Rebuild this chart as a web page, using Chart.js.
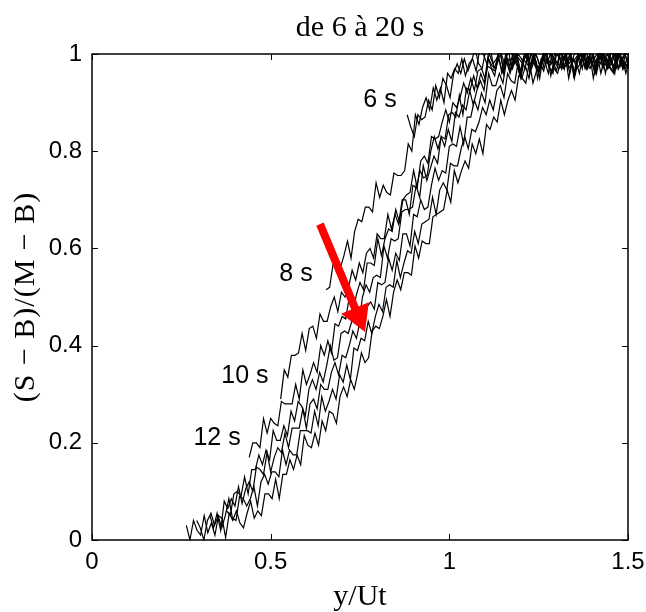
<!DOCTYPE html>
<html><head><meta charset="utf-8">
<script src="https://cdn.jsdelivr.net/npm/chart.js@4.4.1/dist/chart.umd.min.js"></script>
<style>html,body{margin:0;padding:0;background:#fff}</style>
</head><body>
<canvas id="c" width="646" height="612"></canvas>
<script>
// profile times and sampling of each profile along y/Ut
const times = ["6 s","8 s","10 s","12 s","14 s","16 s","18 s","20 s"];
const xStart = [0.882,0.655,0.528,0.44,0.377,0.33,0.293,0.264];
const xStep = 0.01;

const y06 = [.875,.85,.83,.875,.865,.87,.905,.885,.935,.91,.95,.935,.91,.96,.98,.96,.99,.965,.985,1.01,.98,.97,1.01,1.0,.98,.99,1.01,.96,1.0,1.01,.98,1.0,.99,.97,1.01,.98,1.0,.98,.97,1.01,1.0,.99,.98,1.01,.97,1.01,.98,.99,1.0,.97,1.01,.98,1.0,.96,1.01,.99,1.0,.98,1.01,.97,.99,1.0,.97];
const y08 = [.515,.52,.57,.57,.56,.585,.615,.58,.635,.66,.655,.685,.685,.675,.735,.705,.73,.715,.71,.755,.75,.75,.76,.815,.80,.875,.855,.89,.91,.885,.93,.905,.93,.90,.96,.95,.97,.96,.99,.955,.98,.99,.965,1.01,1.0,.98,1.01,.97,.99,1.0,.98,1.01,.97,1.0,.99,.98,1.01,.96,1.0,.995,.97,1.01,.99,.98,1.0,1.01,.97,1.0,.98,.99,1.01,.98,1.0,.97,1.0,.995,.97,1.01,.99,.98,1.01,.98,1.0,.97,1.01,.995];
const y10 = [.29,.35,.335,.38,.38,.385,.425,.39,.435,.44,.415,.465,.45,.45,.48,.50,.47,.51,.50,.52,.555,.535,.57,.55,.59,.60,.58,.63,.62,.62,.67,.64,.67,.65,.70,.70,.67,.73,.725,.76,.745,.75,.80,.83,.805,.83,.825,.875,.88,.87,.915,.875,.93,.925,.955,.93,.96,.94,.995,.97,.965,.99,.965,1.0,.975,1.0,.985,.955,.995,1.0,.975,.995,.965,.985,1.01,.975,.965,1.0,.995,.975,.985,1.0,.955,.995,1.0,.975,.995,.985,.965,1.01,.975,.995,.975,.965,1.0,.995,.985,.975,1.0];
const y12 = [.17,.20,.20,.19,.25,.22,.25,.24,.235,.285,.28,.28,.28,.32,.29,.35,.32,.34,.365,.345,.40,.38,.41,.385,.445,.44,.46,.455,.50,.47,.505,.53,.515,.57,.57,.565,.62,.585,.62,.64,.635,.68,.655,.70,.71,.715,.76,.725,.78,.79,.775,.83,.825,.83,.86,.885,.86,.90,.89,.91,.94,.92,.95,.925,.965,.97,.95,.99,.975,.97,1.01,.975,.995,.965,1.0,.995,.955,1.0,.985,1.0,.975,.965,.995,1.01,.975,.985,.965,1.0,.995,.975,1.0,.955,.995,.985,1.0,.975,.995,.965,1.01,.985,.975,.995,.965,1.0,.975,1.0,.985];
const y14 = [.06,.05,.095,.10,.09,.13,.095,.145,.145,.175,.155,.185,.165,.225,.205,.205,.235,.215,.265,.245,.285,.275,.255,.31,.33,.31,.345,.325,.36,.40,.37,.375,.425,.43,.425,.45,.48,.445,.50,.525,.51,.54,.545,.54,.605,.58,.62,.615,.62,.675,.68,.68,.685,.73,.705,.77,.74,.765,.79,.775,.83,.81,.845,.82,.88,.87,.895,.885,.925,.895,.925,.945,.925,.975,.97,.955,1.0,.96,.98,.99,.97,1.0,.96,.99,.98,.97,1.0,.95,.99,.985,.96,1.0,.98,.97,.99,1.0,.96,.99,.97,.98,1.0,.97,.99,.96,.99,.995,.96,1.0,.98,.97,1.01,.97,.99,.96];
const y16 = [.05,.025,.055,.02,.08,.065,.085,.07,.11,.075,.105,.12,.10,.15,.145,.135,.18,.14,.17,.19,.18,.22,.19,.23,.23,.23,.27,.23,.28,.29,.27,.32,.31,.31,.345,.365,.34,.38,.375,.40,.43,.415,.45,.435,.48,.49,.475,.53,.525,.53,.58,.555,.59,.575,.63,.63,.605,.67,.665,.70,.68,.685,.73,.765,.74,.76,.755,.81,.815,.81,.85,.815,.87,.87,.905,.885,.92,.90,.96,.935,.935,.96,.94,.985,.96,.99,.975,.95,.99,1.0,.97,.99,.96,.98,1.01,.97,.96,1.0,.99,.97,.98,1.0,.95,.99,1.0,.97,.99,.98,.96,1.01,.97,.99,.97,.96,1.0,.99,.98,.97];
const y18 = [.04,.025,.00,.04,.055,.03,.05,.025,.05,.085,.045,.04,.09,.085,.07,.085,.11,.07,.12,.135,.115,.14,.14,.13,.185,.155,.185,.175,.175,.225,.225,.225,.22,.265,.235,.295,.265,.285,.31,.29,.34,.325,.36,.33,.395,.39,.415,.41,.45,.425,.46,.485,.47,.52,.525,.52,.575,.54,.57,.595,.59,.635,.61,.65,.655,.66,.705,.67,.72,.735,.72,.775,.77,.77,.805,.83,.805,.845,.84,.86,.89,.875,.905,.885,.925,.935,.91,.96,.945,.94,.985,.95,.975,.95,.99,.985,.95,1.0,.98,1.0,.97,.96,.99,1.01,.97,.98,.96,1.0,.99,.97,1.0,.95,.99,.98,1.0,.97,.99,.96,1.01,.98,.97,.99];
const y20 = [.03,.00,.04,.02,.01,.05,.015,.035,.01,.05,.045,.005,.055,.04,.06,.035,.025,.055,.08,.045,.06,.05,.095,.095,.085,.125,.085,.135,.135,.165,.145,.175,.155,.215,.195,.19,.22,.195,.245,.225,.265,.26,.24,.295,.315,.295,.33,.31,.345,.385,.365,.375,.43,.44,.435,.46,.495,.46,.51,.535,.515,.55,.55,.545,.605,.58,.615,.61,.61,.665,.67,.675,.68,.72,.695,.76,.735,.76,.78,.765,.815,.795,.825,.795,.855,.845,.87,.86,.905,.875,.905,.925,.905,.955,.95,.94,.985,.94,.965,.98,.965,.995,.955,.99,.98,.97,1.0,.95,.99,.985,.96,1.0,.98,.97,.99,1.0,.96,.99,.97,.98,1.0,.97,.99,.96,.99];
const series = [y06,y08,y10,y12,y14,y16,y18,y20];

const xTicks = [0,0.5,1,1.5];
const yTicks = [0,0.2,0.4,0.6,0.8,1];

const curveLabels = ["6 s","8 s","10 s","12 s"];
const labelX = [0.806,0.571,0.428,0.350];
const labelY = [0.905,0.547,0.337,0.210];
const arrowFrom = [0.638,0.650];
const arrowTo = [0.764,0.428];

const titleText = "de 6 à 20 s";
const xTitle = "y/Ut";
const yTitle = "(S \u2212 B)/(M \u2212 B)";

const datasets = series.map((ys, k) => ({
  label: times[k],
  data: ys.map((v, i) => ({x: xStart[k] + i * xStep, y: v})),
  borderColor: '#000',
  borderWidth: 1.2,
  pointRadius: 0,
  tension: 0,
  fill: false,
  clip: 1
}));

const tickFont = {family: 'Liberation Sans, Arial, sans-serif', size: 24};

const decor = {
  id: 'decor',
  afterDraw(chart) {
    const ctx = chart.ctx, a = chart.chartArea;
    const xs = chart.scales.x, ys = chart.scales.y;
    ctx.save();
    ctx.strokeStyle = '#000'; ctx.lineWidth = 1.5;
    ctx.strokeRect(a.left, a.top, a.right - a.left, a.bottom - a.top);
    ctx.lineWidth = 1;
    const tl = 6;
    ctx.beginPath();
    xTicks.forEach(v => {
      const p = Math.round(xs.getPixelForValue(v)) + 0.5;
      ctx.moveTo(p, a.bottom); ctx.lineTo(p, a.bottom - tl);
      ctx.moveTo(p, a.top); ctx.lineTo(p, a.top + tl);
    });
    yTicks.forEach(v => {
      const p = Math.round(ys.getPixelForValue(v)) + 0.5;
      ctx.moveTo(a.left, p); ctx.lineTo(a.left + tl, p);
      ctx.moveTo(a.right, p); ctx.lineTo(a.right - tl, p);
    });
    ctx.stroke();
    ctx.fillStyle = '#000';
    ctx.font = '25px "Liberation Sans", Arial, sans-serif';
    ctx.textAlign = 'center'; ctx.textBaseline = 'middle';
    curveLabels.forEach((t, i) => {
      ctx.fillText(t, xs.getPixelForValue(labelX[i]), ys.getPixelForValue(labelY[i]));
    });
    const x0 = xs.getPixelForValue(arrowFrom[0]), y0 = ys.getPixelForValue(arrowFrom[1]);
    const x1 = xs.getPixelForValue(arrowTo[0]), y1 = ys.getPixelForValue(arrowTo[1]);
    const dx = x1 - x0, dy = y1 - y0, L = Math.hypot(dx, dy);
    const ux = dx / L, uy = dy / L, nx = -uy, ny = ux;
    const hl = 26, hw = 15;
    const bx = x1 - ux * hl, by = y1 - uy * hl;
    ctx.strokeStyle = '#ff0000'; ctx.fillStyle = '#ff0000';
    ctx.lineWidth = 8; ctx.lineCap = 'butt';
    ctx.beginPath(); ctx.moveTo(x0, y0); ctx.lineTo(bx + ux * 2, by + uy * 2); ctx.stroke();
    ctx.beginPath();
    ctx.moveTo(x1, y1);
    ctx.lineTo(bx + nx * hw, by + ny * hw);
    ctx.lineTo(bx - nx * hw, by - ny * hw);
    ctx.closePath(); ctx.fill();
    ctx.fillStyle = '#000';
    const cx = (a.left + a.right) / 2;
    ctx.font = '30px "Liberation Serif", "Times New Roman", serif';
    ctx.textAlign = 'center'; ctx.textBaseline = 'alphabetic';
    ctx.fillText(titleText, cx, 36);
    ctx.fillText(xTitle, cx, 605);
    ctx.translate(34, (a.top + a.bottom) / 2);
    ctx.rotate(-Math.PI / 2);
    try { ctx.letterSpacing = '1px'; } catch (e) {}
    ctx.fillText(yTitle, 0, 0);
    ctx.restore();
  }
};

new Chart(document.getElementById('c'), {
  type: 'line',
  data: {datasets},
  options: {
    responsive: false,
    animation: false,
    devicePixelRatio: 1,
    layout: {padding: {top: 54, right: 18, left: 0, bottom: 0}},
    plugins: {legend: {display: false}, tooltip: {enabled: false}, title: {display: false}},
    scales: {
      x: {
        type: 'linear', min: 0, max: 1.5,
        afterBuildTicks: s => { s.ticks = xTicks.map(v => ({value: v})); },
        afterFit: s => { s.height = 72; s.paddingLeft = 0; s.paddingRight = 0; },
        grid: {display: false, drawTicks: false},
        border: {display: false},
        ticks: {font: tickFont, color: '#000', padding: 8, maxRotation: 0, autoSkip: false,
                callback: v => String(parseFloat(Number(v).toFixed(2)))}
      },
      y: {
        type: 'linear', min: 0, max: 1,
        afterBuildTicks: s => { s.ticks = yTicks.map(v => ({value: v})); },
        afterFit: s => { s.width = 92; s.paddingTop = 0; s.paddingBottom = 0; },
        grid: {display: false, drawTicks: false},
        border: {display: false},
        ticks: {font: tickFont, color: '#000', padding: 10, autoSkip: false,
                callback: v => String(parseFloat(Number(v).toFixed(2)))}
      }
    }
  },
  plugins: [decor]
});
</script>
</body></html>
